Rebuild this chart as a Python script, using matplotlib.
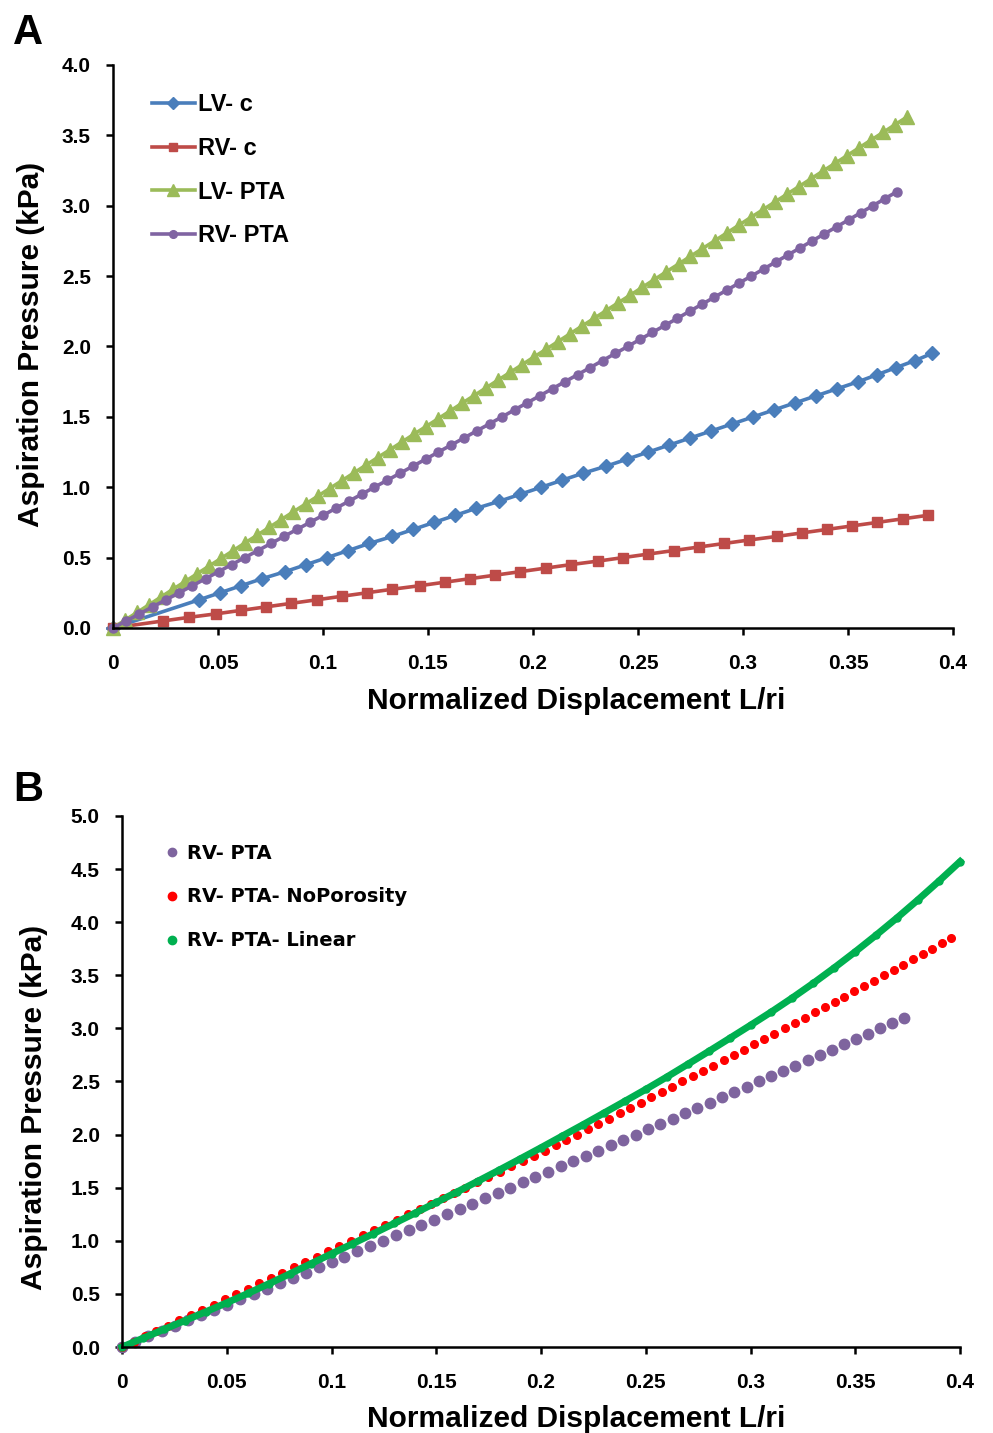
import matplotlib
matplotlib.use("Agg")
import matplotlib.pyplot as plt

# ---- Panel A data ----
lvc_x = [0, 0.041, 0.051, 0.061, 0.071, 0.082, 0.092, 0.102, 0.112, 0.122, 0.133,
         0.143, 0.153, 0.163, 0.173, 0.184, 0.194, 0.204, 0.214, 0.224, 0.235,
         0.245, 0.255, 0.265, 0.275, 0.285, 0.295, 0.305, 0.315, 0.325, 0.335,
         0.345, 0.355, 0.364, 0.373, 0.382, 0.390]
lvc_y = [0, 0.20, 0.25, 0.30, 0.35, 0.40, 0.45, 0.50, 0.55, 0.60, 0.65, 0.70, 0.75,
         0.80, 0.85, 0.90, 0.95, 1.00, 1.05, 1.10, 1.15, 1.20, 1.25, 1.30, 1.35,
         1.40, 1.45, 1.50, 1.55, 1.60, 1.65, 1.70, 1.75, 1.80, 1.85, 1.90, 1.95]

rvc_x = [0, 0.024, 0.036, 0.049, 0.061, 0.073, 0.085, 0.097, 0.109, 0.121, 0.133,
         0.146, 0.158, 0.170, 0.182, 0.194, 0.206, 0.218, 0.231, 0.243, 0.255,
         0.267, 0.279, 0.291, 0.303, 0.316, 0.328, 0.340, 0.352, 0.364, 0.376, 0.388]
rvc_y = [0, 0.050, 0.075, 0.100, 0.125, 0.150, 0.175, 0.200, 0.225, 0.250, 0.275,
         0.300, 0.325, 0.350, 0.375, 0.400, 0.425, 0.450, 0.475, 0.500, 0.525,
         0.550, 0.575, 0.600, 0.625, 0.650, 0.675, 0.700, 0.725, 0.750, 0.775, 0.800]

lvpta_x = [0, 0.0057, 0.0115, 0.0172, 0.0229, 0.0286, 0.0344, 0.0401, 0.0458, 0.0516,
           0.0573, 0.0630, 0.0688, 0.0745, 0.0802, 0.0859, 0.0917, 0.0974, 0.1031,
           0.1089, 0.1146, 0.1203, 0.1260, 0.1318, 0.1375, 0.1432, 0.1490, 0.1547,
           0.1604, 0.1661, 0.1719, 0.1776, 0.1833, 0.1891, 0.1948, 0.2005, 0.2063,
           0.2120, 0.2177, 0.2234, 0.2292, 0.2349, 0.2406, 0.2464, 0.2521, 0.2578,
           0.2635, 0.2693, 0.2750, 0.2807, 0.2865, 0.2922, 0.2979, 0.3036, 0.3094,
           0.3151, 0.3208, 0.3266, 0.3323, 0.3380, 0.3438, 0.3495, 0.3552, 0.3609,
           0.3667, 0.3724, 0.3781]
lvpta_y = [0, 0.055, 0.110, 0.165, 0.220, 0.275, 0.330, 0.385, 0.440, 0.495, 0.550,
           0.605, 0.660, 0.715, 0.770, 0.825, 0.880, 0.935, 0.990, 1.045, 1.100,
           1.155, 1.210, 1.265, 1.320, 1.375, 1.430, 1.485, 1.540, 1.595, 1.650,
           1.705, 1.760, 1.815, 1.870, 1.925, 1.980, 2.035, 2.090, 2.145, 2.200,
           2.255, 2.310, 2.365, 2.420, 2.475, 2.530, 2.585, 2.640, 2.695, 2.750,
           2.805, 2.860, 2.915, 2.970, 3.025, 3.080, 3.135, 3.190, 3.245, 3.300,
           3.355, 3.410, 3.465, 3.520, 3.575, 3.630]

# RV-PTA appears in both panels
rvpta_x = [0, 0.0063, 0.0126, 0.0189, 0.0252, 0.0315, 0.0378, 0.0441, 0.0503, 0.0565,
           0.0628, 0.0690, 0.0752, 0.0814, 0.0876, 0.0938, 0.1000, 0.1061, 0.1123,
           0.1184, 0.1245, 0.1307, 0.1368, 0.1429, 0.1490, 0.1550, 0.1611, 0.1672,
           0.1732, 0.1793, 0.1853, 0.1913, 0.1973, 0.2033, 0.2093, 0.2153, 0.2213,
           0.2273, 0.2332, 0.2392, 0.2451, 0.2510, 0.2569, 0.2629, 0.2688, 0.2746,
           0.2805, 0.2864, 0.2923, 0.2981, 0.3040, 0.3098, 0.3156, 0.3214, 0.3272,
           0.3330, 0.3388, 0.3446, 0.3504, 0.3561, 0.3619, 0.3676, 0.3734]
rvpta_y = [0, 0.05, 0.10, 0.15, 0.20, 0.25, 0.30, 0.35, 0.40, 0.45, 0.50, 0.55, 0.60,
           0.65, 0.70, 0.75, 0.80, 0.85, 0.90, 0.95, 1.00, 1.05, 1.10, 1.15, 1.20,
           1.25, 1.30, 1.35, 1.40, 1.45, 1.50, 1.55, 1.60, 1.65, 1.70, 1.75, 1.80,
           1.85, 1.90, 1.95, 2.00, 2.05, 2.10, 2.15, 2.20, 2.25, 2.30, 2.35, 2.40,
           2.45, 2.50, 2.55, 2.60, 2.65, 2.70, 2.75, 2.80, 2.85, 2.90, 2.95, 3.00,
           3.05, 3.10]

# ---- Panel B data ----
nopor_x = [0, 0.0055, 0.0109, 0.0164, 0.0219, 0.0273, 0.0328, 0.0383, 0.0437, 0.0492,
           0.0546, 0.0601, 0.0656, 0.0710, 0.0765, 0.0820, 0.0874, 0.0929, 0.0984,
           0.1038, 0.1093, 0.1148, 0.1202, 0.1257, 0.1311, 0.1366, 0.1421, 0.1475,
           0.1530, 0.1585, 0.1639, 0.1694, 0.1749, 0.1803, 0.1858, 0.1913, 0.1967,
           0.2019, 0.2070, 0.2121, 0.2173, 0.2223, 0.2274, 0.2325, 0.2375, 0.2426,
           0.2476, 0.2526, 0.2576, 0.2625, 0.2675, 0.2724, 0.2774, 0.2823, 0.2872,
           0.2921, 0.2969, 0.3018, 0.3066, 0.3114, 0.3163, 0.3211, 0.3258, 0.3306,
           0.3354, 0.3401, 0.3448, 0.3495, 0.3542, 0.3589, 0.3636, 0.3683, 0.3729,
           0.3775, 0.3822, 0.3868, 0.3914, 0.3959]
nopor_y = [0, 0.05, 0.10, 0.15, 0.20, 0.25, 0.30, 0.35, 0.40, 0.45, 0.50, 0.55, 0.60,
           0.65, 0.70, 0.75, 0.80, 0.85, 0.90, 0.95, 1.00, 1.05, 1.10, 1.15, 1.20,
           1.25, 1.30, 1.35, 1.40, 1.45, 1.50, 1.55, 1.60, 1.65, 1.70, 1.75, 1.80,
           1.85, 1.90, 1.95, 2.00, 2.05, 2.10, 2.15, 2.20, 2.25, 2.30, 2.35, 2.40,
           2.45, 2.50, 2.55, 2.60, 2.65, 2.70, 2.75, 2.80, 2.85, 2.90, 2.95, 3.00,
           3.05, 3.10, 3.15, 3.20, 3.25, 3.30, 3.35, 3.40, 3.45, 3.50, 3.55, 3.60,
           3.65, 3.70, 3.75, 3.80, 3.85]

linear_x = [0, 0.01, 0.02, 0.03, 0.04, 0.05, 0.06, 0.07, 0.08, 0.09, 0.10, 0.11, 0.12,
            0.13, 0.14, 0.15, 0.16, 0.17, 0.18, 0.19, 0.20, 0.21, 0.22, 0.23, 0.24,
            0.25, 0.26, 0.27, 0.28, 0.29, 0.30, 0.31, 0.32, 0.33, 0.34, 0.35, 0.36,
            0.37, 0.38, 0.39, 0.40]
linear_y = [0, 0.083, 0.166, 0.249, 0.332, 0.417, 0.504, 0.595, 0.688, 0.783, 0.878,
            0.972, 1.068, 1.165, 1.262, 1.361, 1.461, 1.563, 1.666, 1.771, 1.877,
            1.985, 2.093, 2.203, 2.314, 2.426, 2.542, 2.662, 2.783, 2.906, 3.030,
            3.156, 3.288, 3.426, 3.571, 3.722, 3.879, 4.042, 4.212, 4.388, 4.570]

x_ticks = [0, 0.05, 0.1, 0.15, 0.2, 0.25, 0.3, 0.35, 0.4]
x_labels = ["0", "0.05", "0.1", "0.15", "0.2", "0.25", "0.3", "0.35", "0.4"]
ya_ticks = [0, 0.5, 1.0, 1.5, 2.0, 2.5, 3.0, 3.5, 4.0]
yb_ticks = [0, 0.5, 1.0, 1.5, 2.0, 2.5, 3.0, 3.5, 4.0, 4.5, 5.0]

plt.rcParams['font.family'] = ['Liberation Sans', 'DejaVu Sans']
plt.rcParams['font.weight'] = 'bold'


def style_axes(ax, yticks, ymax):
    ax.set_xlim(0, 0.4)
    ax.set_ylim(0, ymax)
    ax.set_xticks(x_ticks)
    ax.set_xticklabels(x_labels)
    ax.set_yticks(yticks)
    ax.set_yticklabels([f"{v:.1f}" for v in yticks])
    for s in ['top', 'right']:
        ax.spines[s].set_visible(False)
    for s in ['left', 'bottom']:
        ax.spines[s].set_linewidth(1.8)
    ax.tick_params(axis='x', direction='out', length=5, width=1.8, labelsize=15, pad=14)
    ax.tick_params(axis='y', direction='out', length=5, width=1.8, labelsize=15, pad=11)
    for lab in ax.get_xticklabels() + ax.get_yticklabels():
        lab.set_fontweight('bold')


fig = plt.figure(figsize=(9.93, 14.33), dpi=100)

# ---------------- Panel A ----------------
axA = fig.add_axes([0.1138, 0.5618, 0.8459, 0.3929])
axA.plot(lvc_x, lvc_y, color='#4A7EBB', lw=2.6, marker='D', ms=7, label='LV- c', clip_on=False)
axA.plot(rvc_x, rvc_y, color='#BE4B48', lw=2.6, marker='s', ms=7.5, label='RV- c', clip_on=False)
axA.plot(lvpta_x, lvpta_y, color='#9BBB59', lw=2.6, marker='^', ms=9.5, label='LV- PTA', clip_on=False)
axA.plot(rvpta_x, rvpta_y, color='#8064A2', lw=2.6, marker='o', ms=6.5, label='RV- PTA', clip_on=False)
style_axes(axA, ya_ticks, 4.0)
axA.set_xlabel('Normalized Displacement L/ri', fontsize=21.5, fontweight='bold')
axA.set_ylabel('Aspiration Pressure (kPa)', fontsize=21.5, fontweight='bold')
axA.xaxis.set_label_coords(0.552, -0.105)
axA.yaxis.set_label_coords(-0.081, 0.504)
axA.legend(loc='upper left', bbox_to_anchor=(0.046, 0.95), frameon=False,
           prop={'size': 17, 'weight': 'bold'}, handlelength=1.85, handletextpad=0.12,
           labelspacing=0.88, borderpad=0, borderaxespad=0, markerscale=0.85)

# ---------------- Panel B ----------------
axB = fig.add_axes([0.1229, 0.0600, 0.8439, 0.3706])
axB.plot(rvpta_x, rvpta_y, ls='none', color='#7E649E', marker='o', ms=7.5, label='RV- PTA', clip_on=False)
axB.plot(nopor_x, nopor_y, ls='none', color='#FF0000', marker='o', ms=5.5, label='RV- PTA- NoPorosity', clip_on=False)
axB.plot(linear_x, linear_y, color='#00B050', lw=5, marker='o', ms=5, label='RV- PTA- Linear', clip_on=False)
style_axes(axB, yb_ticks, 5.0)
axB.set_xlabel('Normalized Displacement L/ri', fontsize=21.5, fontweight='bold')
axB.set_ylabel('Aspiration Pressure (kPa)', fontsize=21.5, fontweight='bold')
axB.xaxis.set_label_coords(0.542, -0.109)
axB.yaxis.set_label_coords(-0.088, 0.452)
legB = axB.legend(loc='upper left', bbox_to_anchor=(0.051, 0.948), frameon=False,
                  prop={'family': 'DejaVu Sans', 'size': 14, 'weight': 'bold'},
                  handlelength=0.75, handletextpad=0.4, labelspacing=1.28,
                  borderpad=0, borderaxespad=0)
for h in legB.legend_handles:
    h.set_linestyle('none')
    h.set_markersize(6)

fig.text(0.013, 0.991, 'A', fontsize=30, fontweight='bold', va='top', ha='left')
fig.text(0.013, 0.463, 'B', fontsize=30, fontweight='bold', va='top', ha='left')

fig.savefig('out.png', dpi=100)
